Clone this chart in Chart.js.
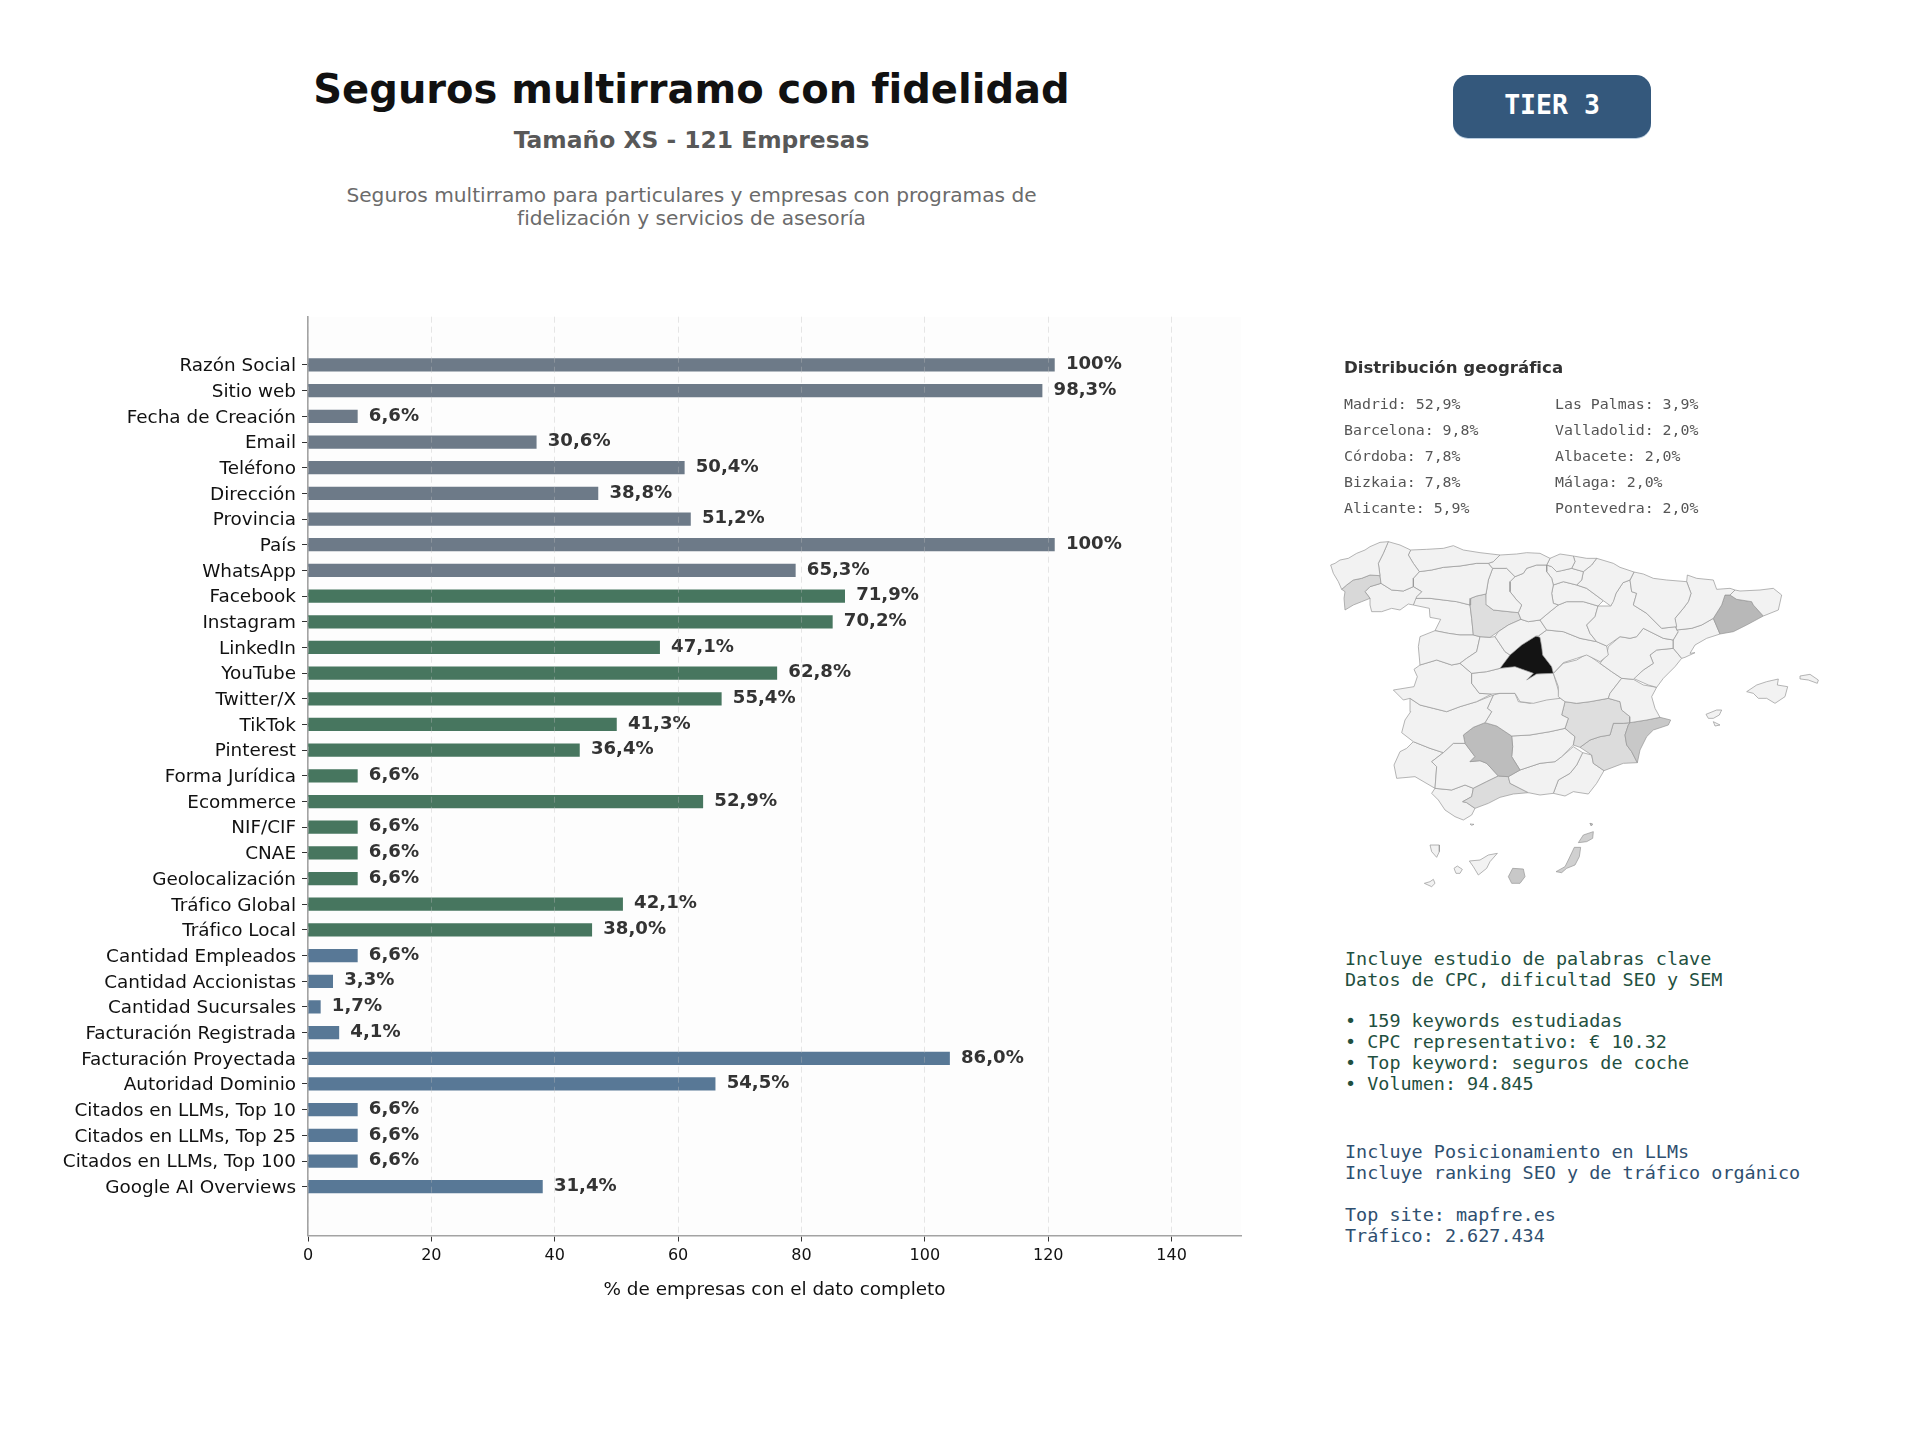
<!DOCTYPE html>
<html lang="es">
<head>
<meta charset="utf-8">
<title>Seguros multirramo con fidelidad</title>
<script src="https://cdn.jsdelivr.net/npm/chart.js@4"></script>
<style>
  html, body { margin: 0; padding: 0; background: #fff; }
  #page { position: relative; width: 1920px; height: 1440px; overflow: hidden; font-family: "DejaVu Sans", sans-serif; }
  #page canvas { position: absolute; display: block; }
  .t { position: absolute; white-space: pre; }
  .mono { font-family: "DejaVu Sans Mono", monospace; }
  .centred { left: 0; width: 1383px; text-align: center; }
</style>
</head>
<body>
<div id="page">
  <canvas id="bars" style="left:0;top:300px;width:1250px;height:1000px" width="1250" height="1000"></canvas>
  <canvas id="map" style="left:1300px;top:340px;width:560px;height:560px" width="560" height="560"></canvas>

  <div class="t centred" style="top:60px;height:58px;line-height:58px;font-size:40px;font-weight:700;color:#111">Seguros multirramo con fidelidad</div>
  <div class="t centred" style="top:124px;height:32px;line-height:32px;font-size:23.4px;font-weight:700;color:#585858">Tamaño XS - 121 Empresas</div>
  <div class="t centred" style="top:184px;height:23px;line-height:23px;font-size:20.15px;color:#6b6b6b">Seguros multirramo para particulares y empresas con programas de</div>
  <div class="t centred" style="top:207px;height:23px;line-height:23px;font-size:20.15px;color:#6b6b6b">fidelización y servicios de asesoría</div>

  <div style="position:absolute;left:1453px;top:75px;width:198px;height:63px;border-radius:15px;background:#34587c;box-shadow:0 1px 0 #b9cde0"></div>
  <div class="t mono" style="left:1453px;top:75px;width:198px;height:60px;line-height:60px;text-align:center;font-size:26.5px;font-weight:700;color:#fff">TIER 3</div>

  <div class="t" style="left:1344px;top:356px;line-height:24px;font-size:16.6px;font-weight:700;color:#333">Distribución geográfica</div>
  <div id="geo"></div>
  <div id="notes"></div>
</div>

<script>
// ---- Horizontal bars: companies (out of 121) holding each data field ----
const totalCompanies = 121;
const categories = [
  "Razón Social", "Sitio web", "Fecha de Creación", "Email", "Teléfono", "Dirección", "Provincia", "País", "WhatsApp",
  "Facebook", "Instagram", "LinkedIn", "YouTube", "Twitter/X", "TikTok", "Pinterest", "Forma Jurídica", "Ecommerce",
  "NIF/CIF", "CNAE", "Geolocalización", "Tráfico Global", "Tráfico Local",
  "Cantidad Empleados", "Cantidad Accionistas", "Cantidad Sucursales", "Facturación Registrada", "Facturación Proyectada",
  "Autoridad Dominio", "Citados en LLMs, Top 10", "Citados en LLMs, Top 25", "Citados en LLMs, Top 100", "Google AI Overviews"
];
const companyCounts = [
  121, 119, 8, 37, 61, 47, 62, 121, 79,
  87, 85, 57, 76, 67, 50, 44, 8, 64, 8, 8, 8, 51, 46,
  8, 4, 2, 5, 104, 66, 8, 8, 8, 38
];
const groupSizes = [9, 14, 10];
const groupColors = ["#6d7a88", "#47765f", "#587896"];
const xTicks = [0, 20, 40, 60, 80, 100, 120, 140];

// ---- Side panel text ----
const geoLeft = ["Madrid: 52,9%", "Barcelona: 9,8%", "Córdoba: 7,8%", "Bizkaia: 7,8%", "Alicante: 5,9%"];
const geoRight = ["Las Palmas: 3,9%", "Valladolid: 2,0%", "Albacete: 2,0%", "Málaga: 2,0%", "Pontevedra: 2,0%"];
const keywordNotes = ["Incluye estudio de palabras clave", "Datos de CPC, dificultad SEO y SEM", "", "• 159 keywords estudiadas", "• CPC representativo: € 10.32", "• Top keyword: seguros de coche", "• Volumen: 94.845"];
const rankingNotes = ["Incluye Posicionamiento en LLMs", "Incluye ranking SEO y de tráfico orgánico", "", "Top site: mapfre.es", "Tráfico: 2.627.434"];

// ---- Province outlines, digitised on four overlapping map sheets ----
// Each sheet has its own origin on the 1680 x 1680 map grid.
const sheet = (dx, dy) => flat => flat.map((v, i) => v + (i % 2 ? dy : dx));
const northWest = sheet(60, 570), northEast = sheet(960, 570), south = sheet(240, 1140), centre = sheet(390, 900);

const coruna = northWest([32,105, 45,100, 60,90, 85,85, 110,70, 135,60, 150,50, 180,37, 205,35, 190,70, 175,100, 180,137, 150,135, 125,145, 100,150, 80,165, 65,178, 55,155, 40,130]);
const pontevedra = northWest([100,150, 125,145, 150,135, 180,137, 183,160, 150,170, 135,185, 150,205, 125,215, 100,225, 75,240, 72,205, 75,185, 65,178, 80,165]);
const lugo = northWest([205,35, 240,45, 272,60, 265,75, 280,100, 298,125, 280,145, 280,170, 250,183, 215,180, 183,160, 180,137, 175,100, 190,70]);
const ourense = northWest([150,170, 183,160, 215,180, 250,183, 280,170, 305,185, 290,200, 280,225, 265,222, 240,240, 215,235, 185,245, 155,245, 150,225, 150,205, 135,185]);
const asturias = northWest([272,60, 320,58, 370,55, 400,47, 430,60, 480,68, 540,75, 520,95, 505,100, 470,100, 420,108, 370,112, 335,120, 298,125, 280,100, 265,75]);
const cantabria = northWest([540,75, 590,72, 620,68, 660,70, 690,85, 680,105, 650,105, 620,115, 610,130, 585,140, 560,115, 518,115, 505,100, 520,95]);
const leon = northWest([298,125, 335,120, 370,112, 420,108, 470,100, 505,100, 518,115, 505,150, 498,192, 470,198, 452,205, 450,225, 410,215, 370,210, 330,205, 285,205, 305,185, 280,170, 280,145]);
const palencia = northWest([518,115, 560,115, 585,140, 570,155, 570,185, 590,210, 605,225, 595,248, 520,240, 500,225, 498,192, 505,150]);
const burgos = northWest([585,140, 610,130, 620,115, 650,105, 680,105, 680,125, 695,145, 700,165, 695,190, 700,220, 715,225, 690,245, 660,270, 625,275, 603,268, 595,248, 605,225, 590,210, 570,185, 570,155]);
const bizkaia = northWest([690,85, 720,72, 760,78, 765,95, 755,115, 725,122, 710,125, 695,110, 680,105]);
const gipuzkoa = northWest([760,78, 800,85, 830,85, 815,105, 790,125, 755,115, 765,95]);
const alava = northWest([710,125, 755,115, 790,125, 785,150, 770,165, 730,155, 700,165, 695,145, 680,125, 680,105, 695,110]);
const navarra = northWest([830,85, 880,100, 900,112, 942,126, 930,150, 909,158, 888,190, 880,215, 872,228, 850,212, 800,175, 770,165, 785,150, 790,125, 815,105]);
const rioja = northWest([700,165, 730,155, 770,165, 800,175, 850,212, 834,228, 790,215, 740,215, 715,225, 700,220, 695,190]);
const soria = northWest([715,225, 740,215, 790,215, 834,228, 825,260, 800,285, 810,310, 830,335, 780,325, 730,305, 680,300, 660,270, 690,245]);
const zamora = northWest([285,205, 330,205, 370,210, 410,215, 450,225, 455,265, 460,315, 420,315, 385,310, 345,302, 362,268, 330,262, 328,235, 280,225]);
const valladolid = northWest([452,205, 470,198, 498,192, 500,225, 520,240, 595,248, 603,268, 565,285, 535,305, 510,322, 480,320, 460,315, 455,265, 450,225]);
const segovia = northWest([603,268, 625,275, 660,270, 680,300, 655,318, 648,318, 605,345, 570,375, 555,365, 525,320, 535,305, 565,285]);
const avila = northWest([480,320, 510,322, 525,320, 555,365, 570,375, 540,415, 500,425, 455,430, 420,400, 440,385, 470,365]);
const salamanca = northWest([300,320, 345,302, 385,310, 420,315, 460,315, 480,320, 470,365, 440,385, 420,400, 395,405, 350,390, 300,405, 295,350]);
const madrid = northWest([648,318, 660,322, 665,350, 668,375, 695,410, 700,430, 650,432, 620,450, 640,430, 585,410, 540,415, 570,375, 605,345]);
const guadalajara = northWest([680,300, 730,305, 780,325, 830,335, 860,348, 865,375, 840,395, 800,375, 770,385, 730,398, 700,430, 695,410, 668,375, 665,350, 660,322, 648,318, 655,318]);
const caceres = northWest([282,418, 300,405, 350,390, 395,405, 420,400, 455,430, 455,460, 478,490, 515,492, 470,515, 420,530, 380,545, 340,535, 300,525, 270,505, 250,510, 220,480, 282,470, 292,440]);
const toledo = northWest([455,430, 500,425, 540,415, 585,410, 640,430, 620,450, 650,432, 700,430, 715,480, 720,505, 680,510, 640,520, 600,515, 585,490, 540,490, 515,492, 478,490, 455,460]);

const cuenca = centre([370,100, 400,70, 440,60, 470,42, 510,70, 545,95, 575,115, 540,160, 535,175, 480,185, 440,190, 405,185, 385,170, 385,140]);
const teruel = centre([535,20, 570,-10, 600,-5, 620,-10, 640,-35, 660,-25, 700,-5, 730,0, 730,25, 680,30, 660,45, 670,70, 640,90, 610,118, 575,115, 545,95, 510,70, 530,45]);
const valencia = centre([575,115, 610,118, 640,135, 680,142, 665,170, 675,205, 690,232, 650,240, 600,248, 600,230, 575,210, 570,185, 535,175, 540,160]);
const alicante = centre([600,248, 650,240, 690,232, 722,240, 715,255, 670,270, 650,290, 630,330, 622,368, 605,335, 590,315, 585,285, 595,255]);
const albacete = centre([405,185, 440,190, 480,185, 535,175, 570,185, 575,210, 600,230, 600,248, 580,250, 550,250, 540,285, 510,290, 480,300, 450,322, 430,315, 435,290, 405,265, 415,235, 395,225]);
const murcia = centre([600,248, 595,255, 585,285, 590,315, 605,335, 622,368, 580,370, 522,392, 490,370, 485,345, 450,322, 480,300, 510,290, 540,285, 550,250, 580,250]);
const ciudadReal = centre([190,165, 210,160, 255,160, 265,185, 300,190, 350,170, 385,170, 405,185, 395,225, 415,235, 405,265, 360,275, 300,285, 245,288, 200,258, 165,248, 185,215, 172,205]);
const badajoz = centre([-60,175, -30,195, 10,205, 50,215, 90,200, 140,185, 190,165, 172,205, 185,215, 165,248, 130,262, 100,285, 105,310, 70,310, 40,338, 0,325, -50,305, -85,278, -75,240, -58,215]);
const cordoba = centre([100,285, 130,262, 165,248, 200,258, 245,288, 248,320, 245,350, 270,390, 235,410, 205,408, 170,370, 150,362, 120,365, 135,350, 105,310]);
const jaen = centre([245,288, 300,285, 360,275, 405,265, 435,290, 430,315, 420,325, 395,350, 375,365, 330,370, 270,390, 245,350, 248,320]);
const granada = centre([270,390, 330,370, 375,365, 395,350, 430,320, 458,338, 440,375, 420,400, 385,420, 370,460, 330,465, 295,458, 240,430, 235,410]);
const almeria = centre([458,338, 485,345, 490,370, 522,392, 500,430, 475,462, 430,455, 405,468, 370,460, 385,420, 420,400, 440,375]);
const malaga = centre([205,408, 235,410, 240,430, 295,458, 250,462, 210,472, 175,490, 135,505, 110,488, 98,485, 125,470, 130,445, 170,425]);
const sevilla = centre([40,338, 70,310, 105,310, 135,350, 120,365, 150,362, 170,370, 205,408, 170,425, 130,445, 105,435, 65,450, 15,445, 20,380, 5,365]);
const huelva = centre([-50,305, 0,325, 40,338, 5,365, 20,380, 15,445, -45,410, -100,415, -108,375, -90,335, -70,325]);
const cadiz = centre([15,445, 65,450, 105,435, 130,445, 125,470, 98,485, 110,488, 135,505, 125,525, 100,540, 75,530, 45,510, 25,480, 5,460]);
const melilla = centre([480,550, 488,552, 484,558]);

const zaragoza = northEast([42,126, 30,150, 35,185, 50,190, 40,225, 80,250, 125,295, 165,290, 175,305, 160,330, 130,325, 90,305, 70,295, 50,320, 30,325, 0,320, -40,348, -70,335, -90,310, -100,285, -75,260, -66,228, -28,228, -20,212, -12,190, 9,158, 30,150]);
const huesca = northEast([42,126, 70,132, 100,145, 140,150, 200,155, 213,190, 205,215, 190,235, 165,265, 170,290, 125,295, 80,250, 40,225, 50,190, 35,185, 30,150]);
const lleida = northEast([202,135, 230,145, 280,150, 290,178, 330,175, 345,180, 330,195, 315,195, 305,225, 280,265, 245,285, 215,295, 170,300, 165,265, 190,235, 205,215, 213,190, 200,155]);
const girona = northEast([345,180, 360,183, 420,180, 460,175, 485,195, 475,240, 430,258, 400,225, 395,215, 350,208, 330,195]);
const barcelona = northEast([315,195, 330,195, 350,208, 395,215, 400,225, 430,258, 380,285, 340,305, 300,312, 280,265, 305,225]);
const tarragona = northEast([280,265, 300,312, 260,325, 225,345, 210,370, 225,368, 195,382, 185,385, 160,355, 160,330, 175,305, 170,300, 215,295, 245,285]);
const castellon = northEast([160,355, 185,385, 165,410, 130,445, 110,472, 85,465, 40,445, 70,420, 100,400, 90,375, 110,360]);
const mallorca = northEast([380,485, 410,465, 440,455, 475,447, 472,465, 503,470, 495,500, 465,520, 440,505, 415,505, 400,490]);
const menorca = northEast([540,438, 570,433, 595,450, 592,460, 565,450, 542,447]);
const ibiza = northEast([258,553, 290,540, 305,540, 298,555, 280,565, 265,565]);
const formentera = centre([850,245, 870,255, 855,258]);

const laPalma = south([150,375, 178,375, 178,395, 170,412, 155,395]);
const hierro = south([133,490, 150,485, 160,478, 165,490, 155,500]);
const gomera = south([222,445, 232,438, 247,448, 240,460, 228,460]);
const tenerife = south([268,423, 300,420, 325,405, 352,400, 330,425, 320,445, 295,465, 280,440]);
const granCanaria = south([398,445, 430,447, 435,470, 420,490, 395,490, 385,470]);
const fuerteventura = south([583,382, 602,382, 598,410, 585,435, 560,445, 545,458, 528,455, 555,440, 565,420]);
const lanzarote = south([595,368, 610,345, 640,335, 638,355, 620,365]);
const graciosa = south([630,310, 637,312, 633,316]);
const ceuta = south([270,312, 282,313, 275,316]);

// Province shading by share of companies; everything else stays pale
const paleProvince = "#f2f2f2";
const shadedProvinces = new Map([
  [madrid, "#141414"], [barcelona, "#b8b8b8"], [cordoba, "#bdbdbd"], [alicante, "#c8c8c8"],
  [granCanaria, "#c8c8c8"], [fuerteventura, "#d0d0d0"], [lanzarote, "#d0d0d0"],
  [valladolid, "#dedede"], [albacete, "#dedede"], [malaga, "#dcdcdc"], [pontevedra, "#d8d8d8"], [murcia, "#dcdcdc"]
]);
const provinces = [
  coruna, lugo, pontevedra, ourense, asturias, cantabria, leon, palencia, burgos, bizkaia, gipuzkoa, alava, navarra, rioja,
  huesca, lleida, girona, barcelona, tarragona, zaragoza, soria, segovia, valladolid, avila, salamanca, zamora,
  guadalajara, teruel, castellon, valencia, cuenca, toledo, caceres, badajoz, ciudadReal, albacete, alicante, murcia,
  cordoba, jaen, granada, almeria, malaga, sevilla, huelva, cadiz, mallorca, menorca, ibiza, formentera,
  laPalma, hierro, gomera, tenerife, granCanaria, fuerteventura, lanzarote, graciosa, ceuta, melilla, madrid
];

// ---- Side panel text rows ----
function addText(parent, text, left, centerY, size, color, lineBox) {
  const el = document.createElement("div");
  el.className = "t mono";
  el.textContent = text;
  el.style.cssText = `left:${left}px;top:${centerY - lineBox / 2}px;height:${lineBox}px;line-height:${lineBox}px;font-size:${size}px;color:${color}`;
  parent.appendChild(el);
}
const geoBox = document.getElementById("geo");
geoLeft.forEach((s, i) => addText(geoBox, s, 1344, 403.5 + i * 26, 14.9, "#555", 22));
geoRight.forEach((s, i) => addText(geoBox, s, 1555, 403.5 + i * 26, 14.9, "#555", 22));
const notesBox = document.getElementById("notes");
keywordNotes.forEach((s, i) => addText(notesBox, s, 1345, 959 + i * 20.8, 18.45, "#1f5040", 22));
rankingNotes.forEach((s, i) => addText(notesBox, s, 1345, 1152 + i * 21, 18.45, "#2f4f6f", 22));

// ---- Bar chart ----
const barColors = groupSizes.flatMap((n, g) => Array(n).fill(groupColors[g]));
const percentLabel = count => {
  const pct = count / totalCompanies * 100;
  return pct === 100 ? "100%" : pct.toFixed(1).replace(".", ",") + "%";
};

const plotBackground = {
  id: "plotBackground",
  beforeDraw(chart) {
    const { ctx, chartArea: a } = chart;
    ctx.save();
    ctx.fillStyle = "#fdfdfd";
    ctx.fillRect(a.left, a.top, a.right - a.left, a.bottom - a.top);
    ctx.restore();
  }
};
const valueLabels = {
  id: "valueLabels",
  afterDatasetsDraw(chart) {
    const { ctx } = chart;
    ctx.save();
    ctx.font = '700 18.1px "DejaVu Sans"';
    ctx.fillStyle = "#333";
    ctx.textAlign = "left";
    ctx.textBaseline = "middle";
    chart.getDatasetMeta(0).data.forEach((bar, i) => {
      ctx.fillText(percentLabel(companyCounts[i]), bar.x + 11.5, bar.y - 0.5);
    });
    ctx.restore();
  }
};
const noScalePadding = scale => {
  scale.paddingLeft = scale.paddingRight = scale.paddingTop = scale.paddingBottom = 0;
};

new Chart(document.getElementById("bars"), {
  type: "bar",
  plugins: [plotBackground, valueLabels],
  data: {
    datasets: [{
      data: companyCounts.map((v, i) => ({ x: v, y: i })),
      backgroundColor: barColors,
      barThickness: 12.6,
      borderWidth: 0
    }]
  },
  options: {
    indexAxis: "y",
    responsive: false,
    animation: false,
    layout: { autoPadding: false, padding: { top: 16.7, right: 9, left: 0, bottom: 0 } },
    plugins: { legend: { display: false }, tooltip: { enabled: false } },
    scales: {
      x: {
        type: "linear",
        min: 0,
        max: totalCompanies * 1.25,
        afterBuildTicks(scale) { scale.ticks = xTicks.map(value => ({ value })); },
        afterFit(scale) { scale.height = 64.5; noScalePadding(scale); },
        ticks: { color: "#111", font: { family: "DejaVu Sans", size: 16 }, maxRotation: 0, padding: 5 },
        grid: {
          z: 1,
          color: "rgba(190,190,190,0.38)",
          tickColor: "#333",
          tickLength: 6,
          tickBorderDash: []
        },
        border: { color: "#a3a3a3", width: 1.6, dash: [6, 4], z: 2 },
        title: {
          display: true,
          text: "% de empresas con el dato completo",
          color: "#111",
          font: { family: "DejaVu Sans", size: 18.4 },
          padding: { top: 0, bottom: -1.5 }
        }
      },
      y: {
        type: "linear",
        reverse: true,
        offset: false,
        min: -1.88,
        max: categories.length - 1 + 1.9,
        afterBuildTicks(scale) { scale.ticks = categories.map((_, value) => ({ value })); },
        afterFit(scale) { scale.width = 308; noScalePadding(scale); },
        ticks: {
          autoSkip: false,
          color: "#111",
          font: { family: "DejaVu Sans", size: 18.4 },
          padding: 6,
          labelOffset: 1.5,
          callback: value => categories[value]
        },
        grid: { offset: false, drawOnChartArea: false, tickColor: "#333", tickLength: 6 },
        border: { color: "#a3a3a3", width: 1.6 }
      }
    }
  }
});

// ---- Province map, one filled closed line per province ----
const toPoints = flat => {
  const pts = [];
  for (let i = 0; i < flat.length; i += 2) pts.push({ x: flat[i], y: flat[i + 1] });
  pts.push(pts[0]);
  return pts;
};
new Chart(document.getElementById("map"), {
  type: "scatter",
  data: {
    datasets: provinces.map(outline => ({
      data: toPoints(outline),
      showLine: true,
      fill: "shape",
      tension: 0,
      pointRadius: 0,
      borderWidth: 0.7,
      borderColor: outline === madrid ? "#141414" : "#979797",
      backgroundColor: shadedProvinces.get(outline) || paleProvince
    }))
  },
  options: {
    responsive: false,
    animation: false,
    layout: { autoPadding: false, padding: 0 },
    plugins: { legend: { display: false }, tooltip: { enabled: false } },
    scales: {
      x: { type: "linear", display: false, min: 0, max: 1680 },
      y: { type: "linear", display: false, reverse: true, min: 0, max: 1680 }
    }
  }
});
</script>
</body>
</html>
